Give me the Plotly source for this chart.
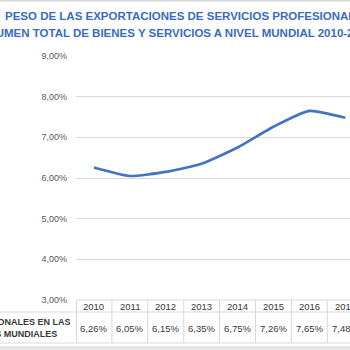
import plotly.graph_objects as go

# ---- data ----
years = [2010, 2011, 2012, 2013, 2014, 2015, 2016, 2017]
values = [6.26, 6.05, 6.15, 6.35, 6.75, 7.26, 7.65, 7.48]
value_labels = ["6,26%", "6,05%", "6,15%", "6,35%", "6,75%", "7,26%", "7,65%", "7,48%"]
y_ticks = [3, 4, 5, 6, 7, 8, 9]
y_ticktext = ["3,00%", "4,00%", "5,00%", "6,00%", "7,00%", "8,00%", "9,00%"]
title_line1 = "PESO DE LAS EXPORTACIONES DE SERVICIOS PROFESIONALES EN EL"
title_line2 = "VOLUMEN TOTAL DE BIENES Y SERVICIOS A NIVEL MUNDIAL 2010-2019"
row_label_1 = "PROFESIONALES EN LAS"
row_label_2 = "EXPORTACIONES MUNDIALES"

# ---- layout geometry ----
W, H = 350, 350
ML, MR, MT, MB = 76, 0, 56, 50
PW, PH = W - ML - MR, H - MT - MB
PITCH = 35.9
x0 = years[0] - 0.5
x_range = [x0, x0 + PW / PITCH]

FONT = "Liberation Sans, Arial, sans-serif"
TEXT = "#383838"
GRID = "#D9D9D9"


def px_x(p):
    return (p - ML) / PW


def px_y(p):
    return 1 - (p - MT) / PH


fig = go.Figure()
fig.add_trace(go.Scatter(
    x=years, y=values, mode="lines",
    line=dict(color="#4472C4", width=2.6, shape="spline", smoothing=0.5),
    hoverinfo="skip", showlegend=False,
))

annotations = []
shapes = []

# title (cropped)
annotations.append(dict(xref="paper", yref="paper", x=px_x(3), y=px_y(16),
                        xanchor="left", yanchor="middle", showarrow=False,
                        text="<b>" + title_line1 + "</b>",
                        font=dict(family=FONT, size=11.5, color="#3A6BC0")))
annotations.append(dict(xref="paper", yref="paper", x=px_x(-30.5), y=px_y(33),
                        xanchor="left", yanchor="middle", showarrow=False,
                        text="<b>" + title_line2 + "</b>",
                        font=dict(family=FONT, size=11.5, color="#3A6BC0")))

# table header and values
for yr, lab in zip(years, value_labels):
    annotations.append(dict(xref="x", yref="paper", x=yr, y=px_y(306.3),
                            xanchor="center", yanchor="middle", showarrow=False,
                            text=str(yr), font=dict(family=FONT, size=9.5, color=TEXT)))
    annotations.append(dict(xref="x", yref="paper", x=yr, y=px_y(328),
                            xanchor="center", yanchor="middle", showarrow=False,
                            text=lab, font=dict(family=FONT, size=9.5, color=TEXT)))

# row label (cropped on the left)
annotations.append(dict(xref="paper", yref="paper", x=px_x(73), y=px_y(321.5),
                        xanchor="right", yanchor="middle", showarrow=False,
                        text="<b>" + row_label_1 + "</b>",
                        font=dict(family=FONT, size=9, color=TEXT)))
annotations.append(dict(xref="paper", yref="paper", x=px_x(58.5), y=px_y(333.5),
                        xanchor="right", yanchor="middle", showarrow=False,
                        text="<b>" + row_label_2 + "</b>",
                        font=dict(family=FONT, size=9, color=TEXT)))

# table grid lines
line_style = dict(color=GRID, width=1)
shapes.append(dict(type="line", xref="paper", yref="paper", x0=0, x1=1.05,
                   y0=px_y(300), y1=px_y(300), line=line_style))
shapes.append(dict(type="line", xref="paper", yref="paper", x0=px_x(-5), x1=1.05,
                   y0=px_y(312), y1=px_y(312), line=line_style))
shapes.append(dict(type="line", xref="paper", yref="paper", x0=px_x(-5), x1=1.05,
                   y0=px_y(343), y1=px_y(343), line=line_style))
shapes.append(dict(type="line", xref="paper", yref="paper", x0=px_x(76.5), x1=px_x(76.5),
                   y0=px_y(300), y1=px_y(343), line=line_style))
for yr in years:
    shapes.append(dict(type="line", xref="x", yref="paper", x0=yr + 0.5, x1=yr + 0.5,
                       y0=px_y(300), y1=px_y(343), line=line_style))

# top and bottom page strips
shapes.append(dict(type="rect", xref="paper", yref="paper", x0=px_x(-5), x1=px_x(355),
                   y0=px_y(0), y1=px_y(1.5), line=dict(width=0), fillcolor="#D8D8D8",
                   layer="below"))
shapes.append(dict(type="rect", xref="paper", yref="paper", x0=px_x(-5), x1=px_x(355),
                   y0=px_y(346), y1=px_y(355), line=dict(width=0), fillcolor="#E6E6E6",
                   layer="below"))

fig.update_layout(
    width=W, height=H,
    margin=dict(l=ML, r=MR, t=MT, b=MB, pad=0),
    paper_bgcolor="white", plot_bgcolor="white",
    font=dict(family=FONT, color=TEXT),
    xaxis=dict(range=x_range, showgrid=False, zeroline=False, showticklabels=False,
               showline=False, ticks="", fixedrange=True),
    yaxis=dict(range=[3, 9], tickvals=y_ticks, ticktext=y_ticktext,
               showgrid=True, gridcolor=GRID, gridwidth=1, zeroline=False,
               showline=False, ticks="", ticklabelstandoff=8,
               tickfont=dict(family=FONT, size=9, color="#595959"), fixedrange=True),
    annotations=annotations, shapes=shapes,
    showlegend=False,
)

fig.write_html("out.html", config=dict(displayModeBar=False))
